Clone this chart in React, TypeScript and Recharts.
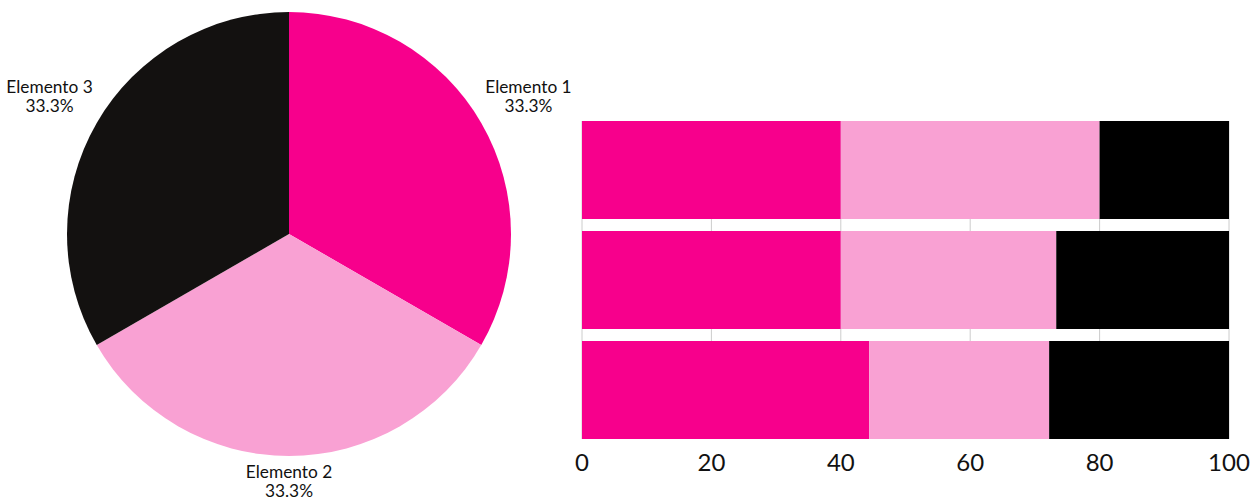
import React from 'react';
import { PieChart, Pie, Cell, BarChart, Bar, XAxis, YAxis, CartesianGrid } from 'recharts';

const pieNames = ['Elemento 1', 'Elemento 2', 'Elemento 3'];
const pieValues = [1, 1, 1];
const pieColors = ['#F7008C', '#F9A1D3', '#131110'];

const barCategories = ['Fila 1', 'Fila 2', 'Fila 3'];
const serie1 = [40, 40, 44.4];
const serie2 = [40, 33.3, 27.8];
const serie3 = [20, 26.7, 27.8];
const barColors = ['#F7008C', '#F9A1D3', '#000000'];
const xTicks = [0, 20, 40, 60, 80, 100];

const pieData = pieNames.map((name, i) => ({ name, value: pieValues[i] }));
const barData = barCategories.map((c, i) => ({ cat: c, s1: serie1[i], s2: serie2[i], s3: serie3[i] }));
const pieTotal = pieValues.reduce((a, b) => a + b, 0);

const FONT = 'Lato, "Noto Sans", sans-serif';

const renderPieLabel = (props: any) => {
  const { cx, cy, midAngle, outerRadius, name, value } = props;
  const RAD = Math.PI / 180;
  const R = outerRadius + 6;
  const c = Math.cos(-midAngle * RAD);
  const s = Math.sin(-midAngle * RAD);
  const ax = cx + R * c;
  const ay = cy + R * s;
  const hw = 42;
  const x = ax + (Math.abs(c) > 0.2 ? Math.sign(c) * hw : 0);
  let y1: number;
  if (s < 0) {
    y1 = ay - 27;
  } else {
    y1 = ay + 16;
  }
  const pct = ((value / pieTotal) * 100).toFixed(1) + '%';
  return (
    <text x={x} y={y1} textAnchor="middle" fill="#111" fontSize={17.3} fontFamily={FONT}>
      <tspan x={x} dy={0}>{name}</tspan>
      <tspan x={x} dy={18.5}>{pct}</tspan>
    </text>
  );
};

export default function App() {
  return (
    <div style={{ position: 'absolute', left: 0, top: 0, width: 1253, height: 501, background: '#fff', fontFamily: FONT }}>
      <div style={{ position: 'absolute', left: 0, top: 0 }}>
        <PieChart width={578} height={501} margin={{ top: 0, right: 0, bottom: 0, left: 0 }}>
          <Pie
            data={pieData}
            dataKey="value"
            nameKey="name"
            cx={289}
            cy={234}
            outerRadius={222}
            startAngle={90}
            endAngle={-270}
            stroke="none"
            label={renderPieLabel}
            labelLine={false}
            isAnimationActive={false}
          >
            {pieData.map((d, i) => (
              <Cell key={d.name} fill={pieColors[i]} />
            ))}
          </Pie>
        </PieChart>
      </div>
      <div style={{ position: 'absolute', left: 560, top: 0 }}>
        <BarChart
          width={693}
          height={501}
          data={barData}
          layout="vertical"
          margin={{ top: 121, right: 24, bottom: 0, left: 22 }}
          barCategoryGap={6}
        >
          <CartesianGrid horizontal={false} vertical={true} stroke="#cccccc" />
          <XAxis
            type="number"
            domain={[0, 100]}
            ticks={xTicks}
            axisLine={false}
            tickLine={false}
            tickSize={6}
            tickMargin={9}
            height={62}
            interval={0}
            tick={{ fill: '#111', fontSize: 24, fontFamily: FONT }}
          />
          <YAxis
            type="category"
            dataKey="cat"
            width={0}
            tick={false}
            tickLine={false}
            axisLine={{ stroke: '#aaaaaa' }}
            padding={{ top: -6, bottom: -6 }}
          />
          <Bar dataKey="s1" stackId="a" fill={barColors[0]} isAnimationActive={false} />
          <Bar dataKey="s2" stackId="a" fill={barColors[1]} isAnimationActive={false} />
          <Bar dataKey="s3" stackId="a" fill={barColors[2]} isAnimationActive={false} />
        </BarChart>
      </div>
    </div>
  );
}
